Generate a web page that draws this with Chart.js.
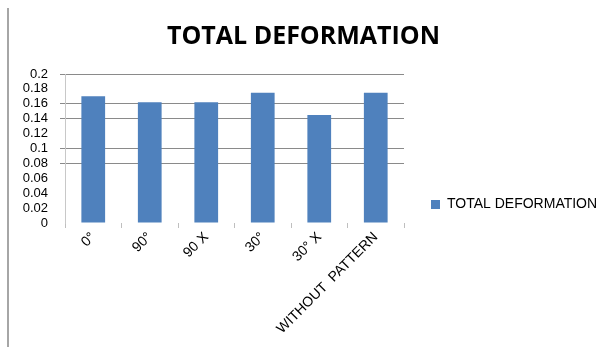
<!DOCTYPE html>
<html>
<head>
<meta charset="utf-8">
<script src="https://cdn.jsdelivr.net/npm/chart.js@4/dist/chart.umd.min.js"></script>
<style>
  html, body { margin: 0; padding: 0; background: #fff; }
  #wrap { position: relative; width: 609px; height: 347px; }
  #frame { position: absolute; left: 7px; top: 8px; width: 0; height: 339px; border-left: 2px solid #a6a6a6; }
  canvas { position: absolute; left: 0; top: 0; }
</style>
</head>
<body>
<div id="wrap">
  <canvas id="c" width="609" height="347"></canvas>
  <div id="frame"></div>
</div>
<script>
const categories = ["0°", "90°", "90 X", "30°", "30° X", "WITHOUT  PATTERN"];
const deformation = [0.170, 0.162, 0.162, 0.175, 0.145, 0.175];
const seriesName = "TOTAL DEFORMATION";
const chartTitle = "TOTAL DEFORMATION";
const yTickValues = [0, 0.02, 0.04, 0.06, 0.08, 0.1, 0.12, 0.14, 0.16, 0.18, 0.2];
const visibleGridValues = [0.2, 0.16, 0.14, 0.1, 0.08];

const hasGrid = v => visibleGridValues.some(g => Math.abs(g - v) < 1e-9);

new Chart(document.getElementById('c'), {
  type: 'bar',
  data: {
    labels: categories,
    datasets: [{
      label: seriesName,
      data: deformation,
      backgroundColor: '#4F81BD',
      borderWidth: 0,
      categoryPercentage: 1.0,
      barPercentage: 0.42
    }]
  },
  options: {
    responsive: false,
    animation: false,
    devicePixelRatio: 1,
    layout: { padding: { left: 0, right: 2, top: 0, bottom: 0 } },
    plugins: {
      title: {
        display: true,
        text: chartTitle,
        color: '#000',
        font: { family: 'Open Sans', size: 25, weight: 'bold', lineHeight: 1.2 },
        padding: { top: 22, bottom: 22 }
      },
      legend: {
        position: 'right',
        align: 'center',
        maxWidth: 203,
        title: {
          display: true,
          text: ' ',
          color: 'rgba(0,0,0,0)',
          font: { size: 10, lineHeight: 1.2 },
          padding: 25
        },
        labels: {
          color: '#000',
          font: { family: 'Liberation Sans', size: 14 },
          boxWidth: 9,
          boxHeight: 9,
          padding: 27
        }
      },
      tooltip: { enabled: false }
    },
    scales: {
      x: {
        offset: true,
        grid: {
          offset: true,
          drawOnChartArea: false,
          tickLength: 5,
          color: '#bfbfbf'
        },
        border: { display: false },
        ticks: {
          color: '#000',
          font: { family: 'Liberation Sans', size: 14 },
          minRotation: 45,
          maxRotation: 45,
          autoSkip: false,
          padding: 1
        },
        afterFit: s => { s.height = 124; }
      },
      y: {
        min: 0,
        max: 0.2,
        afterBuildTicks: s => { s.ticks = yTickValues.map(v => ({ value: v })); },
        grid: {
          tickLength: 5,
          color: c => hasGrid(c.tick.value) ? '#8a8a8a' : 'rgba(0,0,0,0)',
          lineWidth: 1
        },
        border: { display: true, color: '#c8c8c8' },
        ticks: {
          color: '#000',
          font: { family: 'Liberation Sans', size: 13 },
          padding: 12,
          autoSkip: false,
          callback: v => String(Number(v.toFixed(2)))
        },
        afterFit: s => { s.width = 65; }
      }
    }
  }
});
</script>
</body>
</html>
